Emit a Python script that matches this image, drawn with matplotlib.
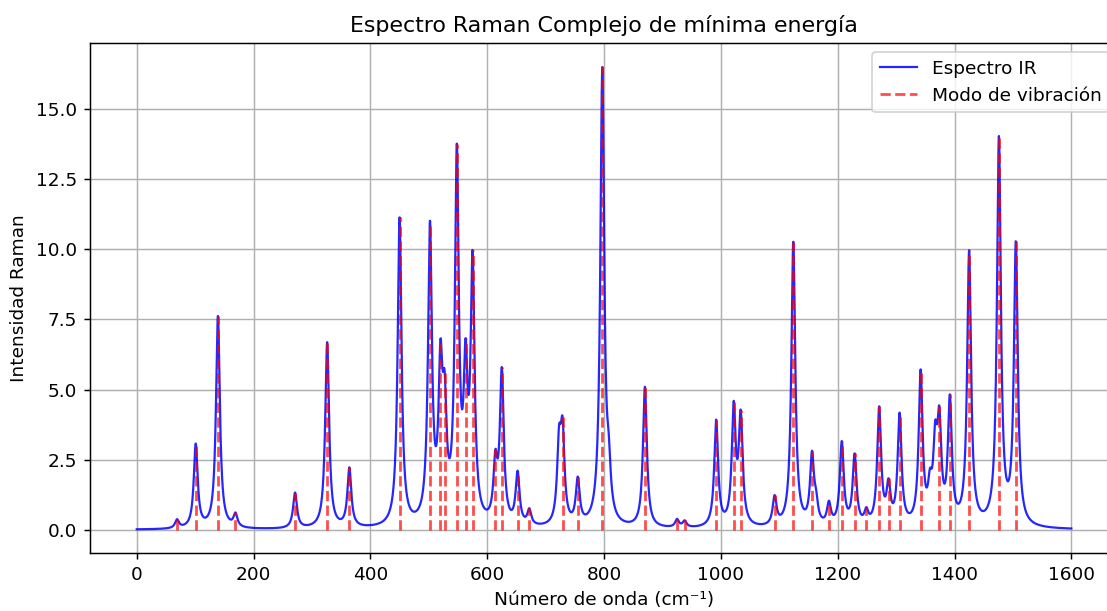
import numpy as np
import matplotlib.pyplot as plt

# modos de vibración (cm-1) y altura del espectro en cada uno
modos = [69, 101, 139, 169, 271, 326, 364, 450, 502, 520, 527, 548, 563, 575,
         614, 625, 652, 672, 729, 755, 797, 870, 925, 938, 992, 1022, 1034,
         1092, 1124, 1156, 1185, 1207, 1229, 1249, 1271, 1287, 1306, 1342,
         1374, 1392, 1425, 1476, 1505]
alturas = [0.38, 3.08, 7.64, 0.62, 1.33, 6.69, 2.23, 11.14, 11.02, 6.81, 5.69,
           13.77, 6.84, 9.98, 2.87, 5.81, 2.11, 0.77, 4.03, 1.90, 16.53, 5.10,
           0.39, 0.34, 3.93, 4.60, 4.29, 1.24, 10.27, 2.82, 1.04, 3.17, 2.73,
           0.81, 4.41, 1.84, 4.18, 5.72, 4.42, 4.83, 9.99, 14.04, 10.31]

# hombros débiles que solo aparecen en la curva
hombros = [723, 808, 1163, 1358, 1367]
alturas_hombros = [3.73, 3.45, 1.45, 2.2, 3.9]

gamma = 4.0


def lorentz(x, x0):
    return gamma**2 / ((x - x0)**2 + gamma**2)


todos = np.array(modos + hombros, dtype=float)
objetivo = np.array(alturas + alturas_hombros)

# amplitudes tales que la suma de lorentzianas pase por las alturas dadas
M = lorentz(todos[:, None], todos[None, :])
amp = np.linalg.solve(M, objetivo)
amp = np.clip(amp, 0, None)

x = np.linspace(0, 1600, 4001)
y = np.zeros_like(x)
for x0, a in zip(todos, amp):
    y += a * lorentz(x, x0)

fig = plt.figure(figsize=(1107 / 133, 611 / 133), dpi=133)
ax = fig.add_axes([0.0813, 0.0949, 0.9287, 0.8347])

ax.plot(x, y, color='blue', lw=1.2, alpha=0.85, label='Espectro IR')
ax.vlines(modos, 0, alturas, colors='red', linestyles='--', lw=1.5,
          alpha=0.7, label='Modo de vibración')

ax.set_title('Espectro Raman Complejo de mínima energía')
ax.set_xlabel('Número de onda (cm⁻¹)')
ax.set_ylabel('Intensidad Raman')
ax.grid(True)
ax.legend(loc='upper right')

fig.savefig('out.png', dpi=133)
